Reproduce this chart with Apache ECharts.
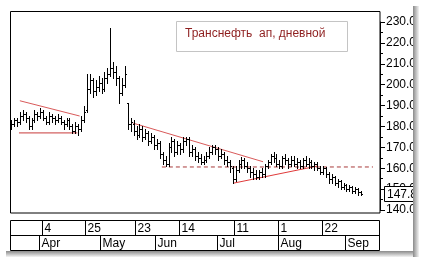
<!DOCTYPE html>
<html>
<head>
<meta charset="utf-8">
<script src="https://cdn.jsdelivr.net/npm/echarts@6/dist/echarts.min.js"></script>
<style>
  html, body { margin: 0; padding: 0; background: #fff; }
  #chart { width: 429px; height: 265px; }
</style>
</head>
<body>
<div id="chart"></div>
<script>
// daily bars, one per trading day (index 0 .. 120)
const opens = [180,181,183,182,185,186,184,180,183,186,185,187,184,182,185,184,183,184,182,181,
  183,180,178,180,179,183,188,198,202,197,199,201,198,203,205,208,206,203,196,200,
  191,181,181,178,176,179,175,177,173,175,171,172,167,164,162,170,173,168,171,169,
  173,174,168,169,166,165,163,164,166,168,170,169,166,167,164,163,160,155,159,162,
  164,161,160,158,157,156,158,157,161,163,166,165,162,161,165,164,162,164,162,163,
  161,164,162,163,161,162,160,158,160,157,155,156,153,154,151,152,150,151,149,150,148.5];
const highs = [183,184,184,187,188,187,185,184,188,187,189,188,185,187,186,185,186,185,183,184,
  184,181,182,181,185,190,205,205,203,202,204,203,206,208,227,211,209,204,203,209,
  191,184,183,180,181,180,179,178,177,176,174,173,168,166,172,175,174,173,172,175,
  175,175,171,170,168,167,166,168,170,171,171,170,169,168,166,164,161,161,164,165.5,
  165,163,161,160,159,159,160,162,164,167,168,167,164,166,167,165,166,166,165,164,
  165,166,165,164,163,163,161,161,160.5,158,157,156.5,155,154.5,153,152.5,152,151.5,151,150.5,149];
const lows = [179,180,180,181,183,182,179,179,182,183,184,183,181,181,182,181,182,181,179,180,
  179,177,177,176,178,182,187,196,194,195,197,196,197,201,204,203,200,191,195,199,
  179,178,176,174,175,173,174,171,172,169,169,165,162,161,161,168,166,167,167,168,
  171,166,166,164,163,162,162,163,165,167,167,164,165,162,161,158,153,154,158,160,
  160,158,156,155,155,155,156,156,160,162,163,161,160,160,162,160,161,161,160,160,
  160,161,160,160,159,159,157,157,156,153,153,152,151,150,150,149,149,148,148,147,147];
const closes = [181,183,182,185,186,184,180,183,186,185,187,184,182,185,184,183,184,182,181,183,
  180,178,180,179,183,187,198,202,197,199,201,198,203,205,208,206,203,196,200,205,
  181,182,178,176,179,175,177,173,175,171,172,167,164,162,170,173,168,171,169,173,
  174,168,169,166,165,163,164,166,168,170,169,166,167,164,163,161,155,159,162,164,
  161,160,158,157,156,158,157,161,163,166,165,162,161,165,164,162,164,162,163,161,
  164,162,163,161,162,160,158,160,157,155,156,153,154,151,152,150,151,149,150,148.5,147.8];

// date strip: bar index where each label starts
const dayTicks = [11, 26, 43, 58, 77, 92, 107];
const dayLabels = ['4', '25', '23', '14', '11', '1', '22'];
const monthTicks = [10, 31, 50, 71, 92, 115];
const monthLabels = ['Apr', 'May', 'Jun', 'Jul', 'Aug', 'Sep'];

// hand-drawn trend lines: [barIndex, price]
const resistApr = [[3, 192.3], [23.5, 185.0]];
const supportApr = [[2.7, 176.9], [22.7, 176.9]];
const resistMay = [[41.8, 181.6], [86.4, 163.1]];
const supportJul = [[76.1, 152.8], [105.2, 161.1]];
const levelDashed = [[51.7, 160.6], [124.1, 160.6]];

const FONT = '12px "Liberation Sans", Arial, sans-serif';
const X_MIN = -0.38, X_MAX = 126.5;

const bars = closes.map((c, i) => [i, opens[i], highs[i], lows[i], c]);

function renderBar(params, api) {
  const i = api.value(0);
  const pO = api.coord([i, api.value(1)]);
  const pH = api.coord([i, api.value(2)]);
  const pL = api.coord([i, api.value(3)]);
  const pC = api.coord([i, api.value(4)]);
  const x = Math.round(pH[0]);
  const yO = Math.round(pO[1]) + 0.5;
  const yC = Math.round(pC[1]) + 0.5;
  const st = { stroke: '#000', lineWidth: 1 };
  return {
    type: 'group',
    children: [
      { type: 'line', shape: { x1: x + 0.5, y1: Math.round(pH[1]), x2: x + 0.5, y2: Math.round(pL[1]) + 1 }, style: st },
      { type: 'line', shape: { x1: x - 1, y1: yO, x2: x, y2: yO }, style: st },
      { type: 'line', shape: { x1: x + 1, y1: yC, x2: x + 2, y2: yC }, style: st }
    ]
  };
}

function stripRenderer(labels) {
  return function (params, api) {
    const idx = api.value(0);
    const row = api.value(1);
    const top = api.coord([idx - 0.5, row + 1]);
    const bot = api.coord([idx - 0.5, row]);
    const x = Math.round(top[0]) + 0.5;
    return {
      type: 'group',
      children: [
        { type: 'line', shape: { x1: x, y1: top[1], x2: x, y2: bot[1] }, style: { stroke: '#000', lineWidth: 1 } },
        { type: 'text', style: { x: x + 2, y: (top[1] + bot[1]) / 2 + 1, text: labels[params.dataIndex], fill: '#000', font: FONT, verticalAlign: 'middle' } }
      ]
    };
  };
}

function trend(data, color, type) {
  return {
    type: 'line', xAxisIndex: 0, yAxisIndex: 0, data: data, symbol: 'none', silent: true,
    lineStyle: { color: color, width: 1, type: type || 'solid' }, animation: false
  };
}

const chart = echarts.init(document.getElementById('chart'));
chart.setOption({
  animation: false,
  backgroundColor: '#fff',
  grid: [
    { left: 10, right: 49, top: 22, bottom: 55 },
    { left: 10, right: 49, top: 220, height: 30 }
  ],
  xAxis: [
    { type: 'value', gridIndex: 0, min: X_MIN, max: X_MAX, show: false },
    { type: 'value', gridIndex: 1, min: X_MIN, max: X_MAX, show: false }
  ],
  yAxis: [
    {
      type: 'value', gridIndex: 0, position: 'right', min: 140, max: 230, interval: 10,
      axisLine: { show: true, onZero: false, lineStyle: { color: '#000' } },
      axisTick: { show: true, length: 5, lineStyle: { color: '#000' } },
      minorTick: { show: true, splitNumber: 2, length: 3, lineStyle: { color: '#000' } },
      splitLine: { show: false },
      axisLabel: { color: '#000', fontFamily: '"Liberation Sans", Arial, sans-serif', fontSize: 12, margin: 6,
        formatter: v => v.toFixed(2) }
    },
    { type: 'value', gridIndex: 1, min: 0, max: 2, show: false }
  ],
  series: [
    trend(resistApr, '#d95a5a'),
    trend(supportApr, '#c83a3a'),
    trend(resistMay, '#d95a5a'),
    trend(supportJul, '#e03a3a'),
    trend(levelDashed, '#a83a3a', [4, 3]),
    {
      type: 'custom', xAxisIndex: 0, yAxisIndex: 0, data: bars, renderItem: renderBar,
      encode: { x: 0, y: [1, 2, 3, 4] }, z: 5, silent: true
    },
    {
      type: 'custom', xAxisIndex: 1, yAxisIndex: 1, data: dayTicks.map(d => [d, 1]),
      renderItem: stripRenderer(dayLabels), silent: true
    },
    {
      type: 'custom', xAxisIndex: 1, yAxisIndex: 1, data: monthTicks.map(d => [d, 0]),
      renderItem: stripRenderer(monthLabels), silent: true
    }
  ]
});

const lastY = Math.round(chart.convertToPixel({ yAxisIndex: 0 }, closes[closes.length - 1]));

chart.setOption({
  graphic: [
    // plot frame
    { type: 'rect', shape: { x: 10.5, y: 11.5, width: 369.5, height: 201.5 }, style: { fill: 'none', stroke: '#000', lineWidth: 1 }, z: 10 },
    // date strip frame
    { type: 'rect', shape: { x: 10.5, y: 220.5, width: 369, height: 30 }, style: { fill: 'none', stroke: '#000', lineWidth: 1 }, z: 10 },
    { type: 'line', shape: { x1: 10.5, y1: 235.5, x2: 379.5, y2: 235.5 }, style: { stroke: '#000', lineWidth: 1 }, z: 10 },
    // title box
    { type: 'rect', shape: { x: 176.5, y: 21.5, width: 171, height: 30 }, style: { fill: '#fff', stroke: '#c4c4c4', lineWidth: 1 }, z: 10 },
    { type: 'text', style: { x: 185, y: 34, text: 'Транснефть  ап, дневной', fill: '#8e1f1f', font: FONT, verticalAlign: 'middle' }, z: 11 },
    // last price tag
    { type: 'rect', shape: { x: 384.5, y: lastY - 7.5, width: 40, height: 15 }, style: { fill: '#fff', stroke: '#000', lineWidth: 1 }, z: 12 },
    { type: 'text', style: { x: 387, y: lastY + 1, text: closes[closes.length - 1].toFixed(2), fill: '#000', font: FONT, verticalAlign: 'middle' }, z: 13 },
    // panel edge + drop shadow
    { type: 'rect', shape: { x: 413, y: 0, width: 16, height: 265 }, style: { fill: '#fff' }, z: 20 },
    { type: 'rect', shape: { x: 0, y: 251, width: 429, height: 14 }, style: { fill: '#fff' }, z: 20 },
    { type: 'rect', shape: { x: 413, y: 6, width: 6, height: 251 },
      style: { fill: new echarts.graphic.LinearGradient(0, 0, 1, 0, [{ offset: 0, color: '#8a8a8a' }, { offset: 1, color: '#f4f4f4' }]) }, z: 21 },
    { type: 'rect', shape: { x: 6, y: 251, width: 407, height: 6 },
      style: { fill: new echarts.graphic.LinearGradient(0, 0, 0, 1, [{ offset: 0, color: '#8a8a8a' }, { offset: 1, color: '#f4f4f4' }]) }, z: 21 }
  ]
});
</script>
</body>
</html>
